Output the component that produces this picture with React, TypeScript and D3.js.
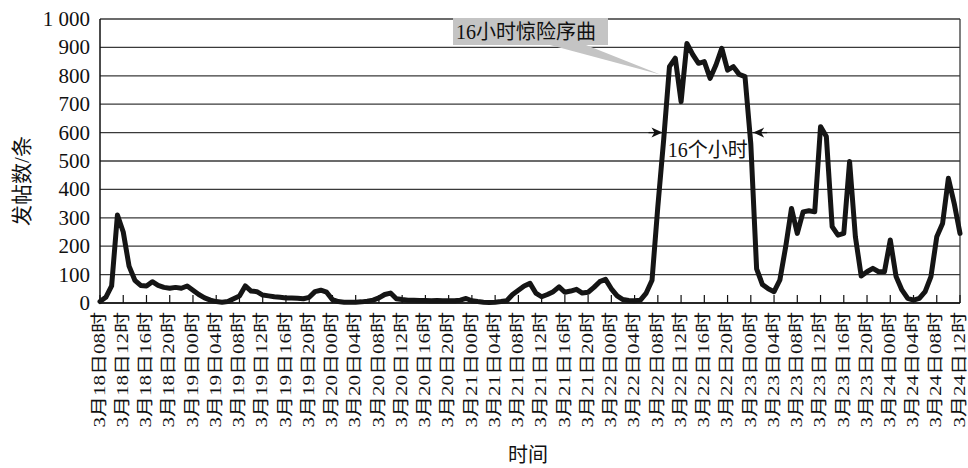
import * as d3 from 'd3';

// hourly post counts, 3月18日08时 .. 3月24日12时
const hourlyPosts = [
  5, 20, 60, 310, 250, 130, 80, 62, 60, 75, 62, 55, 52, 55, 52, 60, 45, 30, 18, 10,
  5, 3, 5, 15, 25, 60, 42, 40, 28, 25, 22, 20, 18, 18, 17, 15, 20, 40, 45, 38,
  12, 5, 3, 3, 3, 4, 6, 10, 18, 30, 35, 15, 12, 10, 10, 9, 9, 8, 9, 8,
  8, 8, 10, 16, 8, 5, 3, 2, 3, 5, 8, 30, 45, 60, 69, 35, 22, 30, 40, 57,
  38, 42, 48, 35, 38, 55, 75, 83, 50, 25, 12, 9, 8, 10, 35, 80, 340, 574, 832, 862,
  709, 914, 875, 844, 850, 791, 838, 897, 820, 832, 805, 797, 560, 120, 65, 50, 40, 81, 198, 333,
  245, 321, 325, 321, 621, 586, 269, 239, 245, 498, 233, 95, 110, 122, 110, 110, 222, 93, 46, 16,
  10, 16, 40, 93, 233, 280, 439, 351, 245,
];

const tickLabels = [
  '3月18日08时', '3月18日12时', '3月18日16时', '3月18日20时',
  '3月19日00时', '3月19日04时', '3月19日08时', '3月19日12时', '3月19日16时', '3月19日20时',
  '3月20日00时', '3月20日04时', '3月20日08时', '3月20日12时', '3月20日16时', '3月20日20时',
  '3月21日00时', '3月21日04时', '3月21日08时', '3月21日12时', '3月21日16时', '3月21日20时',
  '3月22日00时', '3月22日04时', '3月22日08时', '3月22日12时', '3月22日16时', '3月22日20时',
  '3月23日00时', '3月23日04时', '3月23日08时', '3月23日12时', '3月23日16时', '3月23日20时',
  '3月24日00时', '3月24日04时', '3月24日08时', '3月24日12时',
];
const tickStep = 4; // hours between tick labels

const yTicks = [0, 100, 200, 300, 400, 500, 600, 700, 800, 900, 1000];

const width = 968;
const height = 468;
const margin = { top: 19, right: 8, bottom: 165, left: 100 };

const serif = "'Liberation Serif', 'Noto Sans CJK SC', serif";

function fmtTick(v: number) {
  return v >= 1000 ? `${Math.floor(v / 1000)} ${String(v % 1000).padStart(3, '0')}` : String(v);
}

export default function App() {
  const x = d3.scaleLinear()
    .domain([0, hourlyPosts.length - 1])
    .range([margin.left, width - margin.right]);
  const y = d3.scaleLinear()
    .domain([0, 1000])
    .range([height - margin.bottom, margin.top]);

  const line = d3.line<number>()
    .x((_d, i) => x(i))
    .y(d => y(d));

  const x0 = x.range()[0];
  const x1 = x.range()[1];
  const y0 = y.range()[0];
  const y1 = y.range()[1];

  // annotation anchors in data units
  const arrowLeft = x(96.8);
  const arrowRight = x(112.4);
  const arrowY = y(600);
  const boxX = 453;
  const boxY = 18;

  return (
    <svg width={width} height={height} style={{ position: 'absolute', left: 0, top: 0, background: '#fff' }}>
      {yTicks.map(t => (
        <line key={t} x1={x0} x2={x1} y1={y(t)} y2={y(t)} stroke="#3a3a3a" strokeWidth={1.3} />
      ))}
      <line x1={x1} x2={x1} y1={y1} y2={y0} stroke="#3a3a3a" strokeWidth={1.3} />
      <line x1={x0} x2={x0} y1={y1} y2={y0} stroke="#111" strokeWidth={1.5} />
      <line x1={x0} x2={x1} y1={y0} y2={y0} stroke="#111" strokeWidth={1.5} />

      {yTicks.map(t => (
        <text key={t} x={x0 - 10} y={y(t)} textAnchor="end" dominantBaseline="central"
          fontFamily={serif} fontSize={21} fill="#111">{fmtTick(t)}</text>
      ))}

      {tickLabels.map((lab, i) => {
        const tx = x(i * tickStep);
        return (
          <g key={lab}>
            <line x1={tx} x2={tx} y1={y0} y2={y0 - 8} stroke="#111" strokeWidth={1.2} />
            <text transform={`translate(${tx - 1},${y0 + 9}) rotate(-90) scale(1.05,0.84)`} textAnchor="end"
              dominantBaseline="central" fontFamily={serif} fontSize={20} fill="#111">{lab}</text>
          </g>
        );
      })}

      <path d={line(hourlyPosts) ?? ''} fill="none" stroke="#151515" strokeWidth={5}
        strokeLinejoin="round" strokeLinecap="round" />

      {/* callout */}
      <polygon points={`550,${boxY + 27} 586,${boxY + 27} ${x(96.4)},${y(805)}`} fill="#c4c4c4" />
      <rect x={boxX} y={boxY} width={155} height={27} fill="#c4c4c4" />
      <text x={boxX + 3} y={boxY + 14} dominantBaseline="central" fontFamily={serif}
        fontSize={20} fill="#111">16小时惊险序曲</text>

      {/* 16 hour span arrows */}
      <line x1={arrowLeft - 14} x2={arrowLeft} y1={arrowY} y2={arrowY} stroke="#111" strokeWidth={1.3} />
      <polygon points={`${arrowLeft},${arrowY} ${arrowLeft - 11},${arrowY - 5} ${arrowLeft - 8},${arrowY} ${arrowLeft - 11},${arrowY + 5}`} fill="#111" />
      <line x1={arrowRight} x2={arrowRight + 14} y1={arrowY} y2={arrowY} stroke="#111" strokeWidth={1.3} />
      <polygon points={`${arrowRight},${arrowY} ${arrowRight + 11},${arrowY - 5} ${arrowRight + 8},${arrowY} ${arrowRight + 11},${arrowY + 5}`} fill="#111" />
      <text x={x(104.6)} y={y(540)} textAnchor="middle" dominantBaseline="central"
        fontFamily={serif} fontSize={20} fill="#111">16个小时</text>

      {/* axis titles */}
      <text transform={`translate(22,${181}) rotate(-90)`} textAnchor="middle" dominantBaseline="central"
        fontFamily={serif} fontSize={21} fill="#111">发帖数/条</text>
      <text x={528} y={455} textAnchor="middle" dominantBaseline="central"
        fontFamily={serif} fontSize={20} fill="#111">时间</text>
    </svg>
  );
}
